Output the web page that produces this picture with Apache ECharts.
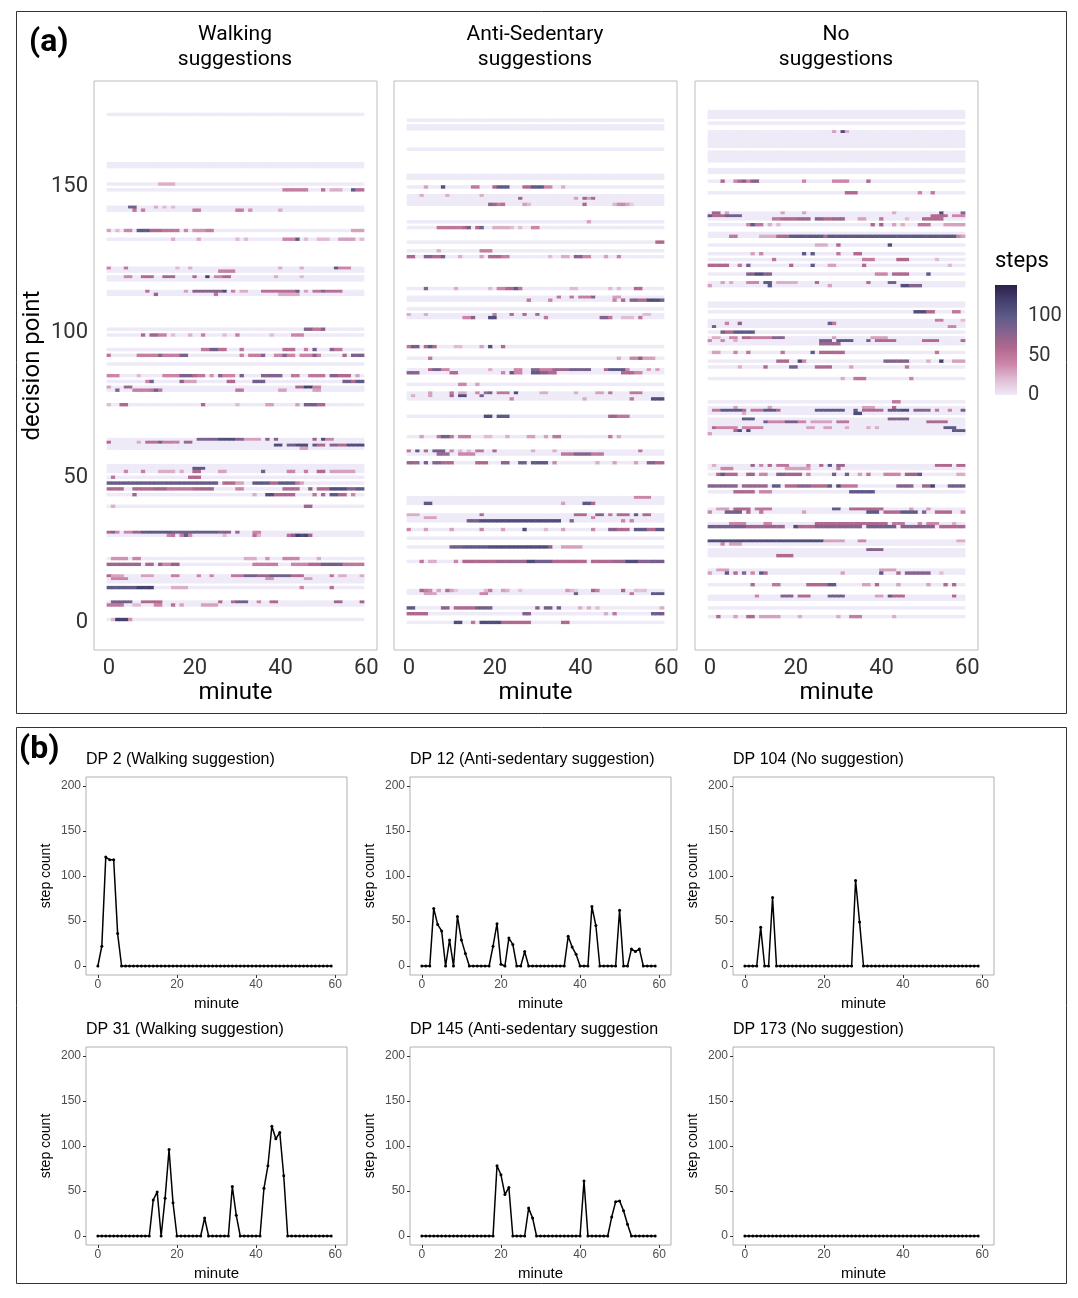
<!DOCTYPE html>
<html>
<head>
<meta charset="utf-8">
<script src="https://cdn.jsdelivr.net/npm/echarts@6/dist/echarts.min.js"></script>
<style>
  html, body { margin: 0; padding: 0; background: #fff; }
  #chart { width: 1078px; height: 1298px; }
</style>
</head>
<body>
<div id="chart"></div>
<script>
// ---- panel (b): step counts per minute (minute 0..59) ----
var dp2Steps = [0,22,121,118,118,36,0,0,0,0, 0,0,0,0,0,0,0,0,0,0, 0,0,0,0,0,0,0,0,0,0,
                0,0,0,0,0,0,0,0,0,0, 0,0,0,0,0,0,0,0,0,0, 0,0,0,0,0,0,0,0,0,0];
var dp12Steps = [0,0,0,64,46,39,0,29,0,55, 29,14,0,0,0,0,0,0,22,47, 2,0,31,24,0,0,16,0,0,0,
                 0,0,0,0,0,0,0,33,21,13, 0,0,0,66,45,0,0,0,0,0, 62,0,0,19,16,19,0,0,0,0];
var dp104Steps = [0,0,0,0,43,0,0,76,0,0, 0,0,0,0,0,0,0,0,0,0, 0,0,0,0,0,0,0,0,95,49,
                  0,0,0,0,0,0,0,0,0,0, 0,0,0,0,0,0,0,0,0,0, 0,0,0,0,0,0,0,0,0,0];
var dp31Steps = [0,0,0,0,0,0,0,0,0,0, 0,0,0,0,40,49,0,42,96,37, 0,0,0,0,0,0,0,20,0,0,
                 0,0,0,0,55,23,0,0,0,0, 0,0,53,78,122,108,115,67,0,0, 0,0,0,0,0,0,0,0,0,0];
var dp145Steps = [0,0,0,0,0,0,0,0,0,0, 0,0,0,0,0,0,0,0,0,78, 68,46,54,0,0,0,0,31,20,0,
                  0,0,0,0,0,0,0,0,0,0, 0,61,0,0,0,0,0,0,21,38, 39,28,13,0,0,0,0,0,0,0];
var dp173Steps = [0,0,0,0,0,0,0,0,0,0, 0,0,0,0,0,0,0,0,0,0, 0,0,0,0,0,0,0,0,0,0,
                  0,0,0,0,0,0,0,0,0,0, 0,0,0,0,0,0,0,0,0,0, 0,0,0,0,0,0,0,0,0,0];

// ---- panel (a): rows per decision point, runs of [firstMinute, lastMinute, steps]; other minutes 0 ----
var walkRows = [
  [175, []], [158, []], [157, []],
  [151, [[12,15,25]]],
  [149, [[41,46,45],[50,50,55],[52,54,25],[57,57,100],[58,59,55]]],
  [143, [[5,6,90],[11,11,25],[13,13,20],[15,15,20]]],
  [142, [[6,6,50],[8,8,45],[20,21,45],[30,31,45],[33,33,35],[40,40,25]]],
  [135, [[0,0,30],[2,2,20],[4,5,40],[7,9,100],[10,12,60],[13,16,50],[18,18,40],[20,22,35],[23,24,45],[57,59,30]]],
  [132, [[15,15,25],[21,21,25],[30,30,20],[32,32,20],[41,43,40],[44,44,100],[46,46,20],[49,51,20],[54,57,30],[59,59,20]]],
  [122, [[0,0,40],[4,4,50],[16,16,20],[19,19,25],[40,40,25],[45,45,25],[53,53,100],[54,56,40]]],
  [121, [[26,29,45]]],
  [119, [[4,5,40],[8,10,60],[13,15,65],[20,20,60],[23,23,120],[25,26,40],[27,28,60],[39,39,25],[45,45,20]]],
  [118, []],
  [114, [[9,9,55],[18,18,30],[20,26,80],[27,27,110],[29,29,45],[31,32,25],[36,43,55],[44,44,95],[46,46,30],[48,49,50],[50,50,80],[51,54,55]]],
  [113, [[11,11,70],[25,25,50],[40,44,25]]],
  [101, [[46,47,80],[48,49,50],[50,50,80]]],
  [99, [[8,8,60],[10,11,70],[12,13,45],[15,15,20],[19,19,25],[22,22,45],[27,27,20],[30,30,45],[38,38,20],[43,45,40]]],
  [94, [[22,23,50],[24,25,90],[26,27,55],[31,31,50],[41,43,55],[46,46,45],[48,48,90],[52,52,80],[53,54,50]]],
  [92, [[0,0,50],[7,11,45],[12,12,80],[13,16,45],[17,18,85],[31,31,45],[33,35,45],[36,36,80],[39,40,40],[41,41,80],[42,43,40],[45,47,40],[48,48,80],[49,49,40],[55,55,60],[57,59,85]]],
  [89, []],
  [85, [[0,2,40],[7,7,20],[13,16,40],[17,19,85],[20,20,60],[21,22,50],[24,24,35],[26,26,80],[27,29,40],[31,31,90],[36,40,80],[43,44,50],[47,50,50],[52,53,80],[54,56,60],[58,58,30]]],
  [83, [[9,9,40],[10,10,90],[17,17,80],[18,20,30],[28,29,60],[34,36,90],[55,56,90],[57,57,60],[58,59,100]]],
  [81, [[0,0,30],[4,5,70],[44,45,60],[46,47,120],[48,49,40]]],
  [80, [[2,2,80],[6,9,45],[10,10,50],[11,11,90],[12,12,50],[30,31,50],[40,41,30],[48,49,30]]],
  [75, [[0,0,20],[3,4,60],[22,22,60],[30,30,20],[37,38,30],[44,44,30],[46,48,90],[49,50,60]]],
  [63, [[21,25,85],[26,29,110],[30,31,80],[32,35,30],[37,37,80],[39,39,80],[48,48,70],[50,50,110],[51,52,40]]],
  [62, [[0,0,60],[7,7,25],[9,11,55],[12,12,90],[13,16,45],[18,19,70]]],
  [61, [[39,40,110],[42,43,90],[44,46,110],[48,48,100],[49,50,60],[52,53,80],[54,55,60],[56,59,110]]],
  [60, [[45,46,30]]],
  [54, []],
  [53, [[20,22,100]]],
  [52, [[4,4,40],[8,8,45],[12,15,25],[17,17,25],[20,21,60],[26,27,30],[36,36,90],[42,43,40],[46,46,45],[49,50,60],[52,57,30]]],
  [50, [[1,1,50],[19,21,60]]],
  [48, [[0,25,95],[27,29,60],[30,31,30],[34,37,100],[38,39,60],[40,43,100],[44,44,50],[45,45,30]]],
  [46, [[0,3,60],[6,10,60],[11,13,70],[14,19,50],[20,21,60],[22,24,70],[30,31,40],[41,44,60],[47,47,80],[49,51,60],[52,55,110],[56,57,80],[58,59,100]]],
  [44, [[6,6,70],[34,34,25],[37,38,110],[39,43,60],[48,48,50],[50,50,60],[52,53,100],[54,55,60],[57,57,40]]],
  [40, [[1,1,25],[46,47,70]]],
  [31, [[0,0,60],[1,1,80],[2,2,40],[4,5,40],[6,7,70],[8,14,100],[15,19,90],[20,25,95],[26,28,80],[30,30,70],[34,35,40]]],
  [22, [[1,4,35],[6,7,40],[32,34,25],[37,37,35],[41,44,40],[49,49,25]]],
  [20, [[0,7,70],[9,10,60],[12,12,75],[13,14,40],[15,16,75],[34,39,45],[43,46,40],[47,49,60],[50,54,90],[55,59,50]]],
  [16, [[0,0,60],[1,3,30],[8,10,30],[15,16,45],[21,21,40],[24,24,40],[29,31,50],[32,34,90],[35,37,70],[38,42,90],[43,45,60],[52,52,50],[54,55,25],[59,59,25]]],
  [15, [[1,4,40],[37,38,35],[46,47,30]]],
  [14, []],
  [12, [[0,6,100],[7,10,120],[15,18,25],[45,45,40],[52,52,55]]],
  [7, [[1,5,90],[8,12,60],[26,26,60],[29,29,60],[30,32,90],[35,35,40],[38,39,60],[53,54,70],[59,59,70]]],
  [6, [[0,3,50],[6,7,20],[11,12,40],[15,15,55],[17,17,30],[22,25,30]]]
];
var walkFull = [[1, dp2Steps], [30, dp31Steps]];

var antiRows = [
  [173, []], [171, []], [170, []], [163, []], [154, []], [153, []],
  [150, [[4,4,30],[8,8,110],[15,16,50],[20,20,60],[21,23,100],[27,28,60],[29,31,100],[32,33,40],[36,36,25]]],
  [147, [[3,3,25],[9,9,25],[17,17,25]]],
  [146, [[26,26,70],[39,39,30],[41,41,70],[42,42,30],[43,43,60]]],
  [145, []],
  [138, [[42,42,30]]],
  [136, [[7,12,50],[13,13,60],[14,14,90],[16,16,60],[17,17,90],[20,23,25],[24,24,20],[26,26,20],[29,30,40]]],
  [131, [[58,59,60]]],
  [128, [[7,7,25],[17,19,45]]],
  [126, [[0,1,60],[4,5,80],[6,7,60],[8,8,90],[12,12,25],[17,17,30],[19,21,60],[22,23,45],[33,33,20],[36,37,25],[39,40,80],[41,42,40],[46,46,30],[49,49,40]]],
  [115, [[4,4,80],[11,11,25],[19,19,20],[21,22,40],[23,24,60],[25,25,100],[26,26,50],[38,39,20],[47,47,20],[49,49,20],[53,54,60]]],
  [112, [[35,35,50],[38,38,50],[40,42,45],[43,43,80],[48,49,30]]],
  [111, [[28,28,50],[33,33,40],[48,48,40],[50,50,60],[52,53,80],[54,55,60],[56,58,110],[59,59,90]]],
  [108, []],
  [106, [[0,0,25],[4,4,25],[20,20,45],[24,24,60],[27,27,60],[30,30,60],[55,56,20]]],
  [105, [[13,14,40],[15,15,80],[19,20,110],[32,32,50],[45,46,80],[47,47,50],[50,52,20],[54,54,50]]],
  [95, [[0,0,50],[1,2,90],[4,4,60],[5,5,100],[6,6,60],[11,12,20],[17,17,30],[19,19,110],[22,22,60]]],
  [91, [[5,5,50],[49,49,25],[52,53,40],[54,54,80],[55,57,30]]],
  [87, [[5,5,60],[6,7,90],[8,9,40],[19,19,25],[25,26,40],[29,30,80],[31,33,45],[34,37,70],[38,42,90],[46,46,60],[47,50,100],[51,51,40],[56,56,30],[58,58,30]]],
  [86, [[0,2,80],[10,11,60],[22,22,40],[24,24,100],[25,26,40],[29,30,100],[31,32,80],[33,34,60],[50,52,60],[53,54,40]]],
  [82, [[12,13,40],[16,16,30]]],
  [79, [[5,5,30],[10,10,50],[12,13,25],[16,16,40],[18,18,70],[19,19,90],[21,23,50],[25,25,110],[31,32,25],[39,39,25],[44,45,30],[47,47,50],[52,54,50]]],
  [78, [[1,1,25],[5,5,30],[10,10,70],[12,13,110],[17,17,90]]],
  [77, [[24,24,40],[41,41,25],[52,52,50],[57,59,110]]],
  [71, [[18,19,110],[21,23,100],[47,48,70],[49,51,50]]],
  [64, [[3,3,30],[7,7,50],[8,9,90],[10,10,50],[12,14,45],[18,19,20],[23,23,25],[28,29,30],[32,32,30],[34,35,50],[47,47,50],[49,49,25]]],
  [59, [[0,0,50],[2,2,100],[4,4,60],[6,8,90],[10,10,40],[12,12,20],[14,14,20],[16,17,50],[20,20,60],[29,29,25],[34,34,25],[54,54,50]]],
  [58, [[7,9,70],[12,15,40],[36,38,50],[39,42,80],[43,45,50]]],
  [55, [[0,2,70],[4,4,90],[6,7,80],[8,10,60],[16,18,60],[22,23,80],[26,27,90],[29,32,100],[34,34,40],[44,44,25],[48,48,30],[53,53,30],[56,57,80],[58,59,60]]],
  [43, [[53,56,40]]],
  [42, []],
  [41, [[4,5,100],[36,36,30],[41,42,100],[43,43,60]]],
  [37, [[0,2,25],[17,17,60],[39,41,60],[44,45,80],[47,47,50],[49,51,60],[53,53,100],[55,56,60]]],
  [36, [[4,6,30],[43,43,40]]],
  [35, [[14,16,90],[17,35,110],[38,38,80],[50,50,40],[52,52,40]]],
  [32, [[0,0,40],[4,4,30],[10,10,30],[17,17,40],[22,22,30],[27,27,110],[32,32,20],[36,36,30],[43,43,40],[47,48,80],[49,51,60],[53,55,100],[56,57,60],[58,59,100]]],
  [29, []],
  [26, [[10,12,90],[13,18,100],[19,32,110],[33,33,80],[36,40,30]]],
  [21, [[3,3,50],[5,6,25],[11,11,40],[13,20,60],[21,27,70],[28,29,110],[30,33,90],[34,41,60],[43,47,60],[48,50,70],[51,53,110],[54,56,80],[57,59,90]]],
  [10, [[4,6,30],[17,18,40],[39,39,90],[52,52,50],[57,59,100]]],
  [5, [[0,1,100],[8,9,80],[11,15,60],[16,19,90],[30,30,80],[32,33,90],[35,35,90],[40,40,25],[42,42,25],[44,44,20],[59,59,25]]],
  [3, [[0,4,60],[27,28,80],[46,46,25],[48,48,50],[57,59,90]]],
  [0, [[11,12,110],[15,15,50],[17,21,110],[22,28,60],[36,37,60]]]
];
var antiFull = [[144, dp145Steps], [11, dp12Steps]];

var noneRows = [
  [176, []], [175, []], [174, []],
  [169, [[29,29,30],[31,31,110],[32,32,25]]],
  [168, []], [167, []], [166, []], [165, []], [164, []],
  [162, []], [161, []], [160, []], [159, []], [156, []], [155, []],
  [152, [[3,3,60],[6,6,40],[7,7,60],[8,8,80],[9,9,40],[10,11,80],[22,22,40],[29,32,40],[37,37,60]]],
  [148, [[32,34,60],[49,49,40],[52,52,50]]],
  [141, [[1,2,70],[4,4,30],[17,17,30],[22,22,30],[43,43,25],[54,54,110],[59,59,80]]],
  [140, [[0,0,100],[1,3,60],[4,7,90],[52,55,60],[57,59,40]]],
  [139, [[15,16,50],[17,20,60],[21,23,70],[25,26,80],[27,28,60],[29,31,70],[35,36,30],[40,40,50],[46,46,20],[50,54,60]]],
  [137, [[9,9,40],[10,10,100],[11,12,50],[14,14,25],[16,16,20],[38,38,60],[40,40,70],[43,43,30],[45,45,25],[49,51,50],[55,59,30]]],
  [134, []],
  [133, [[5,6,50],[12,15,25],[16,18,60],[19,26,100],[27,27,60],[28,57,100],[58,58,40],[59,59,30]]],
  [130, [[25,27,25],[30,30,60],[42,42,110]]],
  [127, [[10,10,30],[12,12,40],[22,22,100],[24,24,100],[30,30,50],[34,35,60]]],
  [125, [[15,15,50],[36,38,45],[44,46,60],[53,53,20]]],
  [123, [[0,4,60],[7,7,50],[9,9,90],[19,19,60],[24,24,100],[28,29,30],[36,36,60],[56,56,20]]],
  [120, [[9,10,80],[11,12,110],[13,14,80],[39,41,40],[43,46,60],[51,51,100]]],
  [117, [[3,3,30],[5,5,25],[9,11,40],[13,14,100],[16,20,25],[25,25,60],[37,37,60],[42,43,90]]],
  [116, [[0,0,30],[14,14,100],[28,28,30],[45,46,110],[47,49,80]]],
  [110, []], [109, []],
  [107, [[48,50,110],[51,52,60],[57,58,50]]],
  [104, [[53,54,45],[59,59,20]]],
  [102, [[1,1,90],[56,57,40]]],
  [100, [[3,3,90],[4,5,60],[6,10,100]]],
  [98, [[1,2,25],[5,6,40],[8,9,60],[10,14,45],[15,17,80],[29,29,30],[38,41,30]]],
  [97, [[0,0,40],[3,3,40],[6,6,25],[26,28,90],[30,33,100],[37,37,90],[39,43,60],[50,53,60],[59,59,60]]],
  [96, [[26,30,70]]],
  [93, [[1,2,30],[6,6,40],[9,9,50],[17,17,50],[24,24,100],[26,31,60],[53,53,50]]],
  [90, [[16,18,60],[21,21,110],[22,22,40],[41,46,80],[51,51,25],[54,54,120],[57,59,30]]],
  [88, [[7,7,25],[13,13,60],[19,20,90],[25,28,60],[33,33,30],[46,46,50]]],
  [84, [[31,31,25],[34,36,50],[47,47,40]]],
  [76, [[43,44,50]]],
  [74, [[6,6,30],[14,14,30],[36,38,30],[43,43,60]]],
  [73, [[1,2,50],[3,7,100],[8,8,60],[10,12,50],[13,15,100],[16,16,60],[25,31,100],[34,34,100],[36,40,60],[42,44,100],[45,46,110],[48,51,80],[53,53,50],[56,56,40],[59,59,90]]],
  [72, [[8,8,25],[34,35,110]]],
  [70, [[8,10,100],[42,46,80]]],
  [69, [[13,13,90],[14,17,40],[18,20,90],[21,22,40],[24,28,30],[30,32,50],[51,55,60]]],
  [68, []],
  [67, [[1,1,60],[2,6,40],[8,12,40],[23,24,30],[27,28,30],[32,32,25],[37,37,25],[39,39,25],[55,57,100]]],
  [66, [[6,6,60],[7,7,110],[9,9,110],[57,59,100]]],
  [65, [[0,0,30]]],
  [54, [[1,1,25],[10,10,70],[12,12,40],[14,14,60],[16,18,50],[23,23,40],[26,26,60],[28,28,100],[30,31,70],[53,56,60],[58,59,60]]],
  [53, [[3,5,40],[18,23,30],[30,30,50]]],
  [51, [[2,2,60],[3,3,100],[4,6,60],[9,10,70],[12,13,40],[16,17,80],[18,21,70],[23,23,40],[29,29,90],[32,32,90],[35,35,30],[37,37,50],[41,44,40],[46,48,70],[49,49,100],[58,59,25]]],
  [47, [[0,6,80],[8,13,70],[15,16,100],[18,20,60],[21,23,80],[24,27,60],[28,28,100],[30,30,110],[31,34,50],[44,47,80],[50,51,70],[52,52,120],[56,59,90]]],
  [45, [[6,10,60],[12,14,40],[33,38,100]]],
  [39, [[2,4,30],[6,9,60],[11,14,50],[29,30,100],[33,40,60],[47,47,30],[51,51,30]]],
  [38, [[0,0,40],[4,7,90],[9,9,60],[12,12,50],[22,22,30],[37,39,100],[41,44,60],[45,48,100],[50,50,80],[53,56,60],[59,59,40]]],
  [34, [[5,8,40],[13,14,40],[25,37,60],[38,41,60],[43,45,50],[49,49,40],[51,53,40],[57,57,25]]],
  [33, [[0,8,90],[9,17,70],[20,20,110],[21,24,60],[25,35,80],[37,43,90],[45,52,80],[54,59,60]]],
  [28, [[0,26,110],[27,31,30],[35,36,40],[58,59,25]]],
  [27, [[3,3,40],[5,7,30]]],
  [25, [[37,40,80]]],
  [24, []],
  [23, [[16,19,60]]],
  [18, [[2,4,30],[40,43,30]]],
  [17, [[0,0,30],[4,4,100],[6,6,60],[8,8,80],[10,10,40],[12,12,100],[13,13,60],[31,31,30],[40,40,100],[44,44,60],[46,51,80],[54,54,20]]],
  [13, [[10,10,60],[15,16,50],[23,27,60],[28,29,100],[36,37,30],[39,39,60],[44,44,30],[51,51,30],[55,55,60],[57,57,60]]],
  [9, [[11,11,40],[17,19,80],[21,23,60],[28,31,90],[39,40,30],[42,42,100],[43,45,60],[57,57,60]]],
  [8, []], [5, []],
  [2, [[2,2,60],[6,6,30],[9,10,60],[12,16,30],[21,21,25],[30,30,25],[33,35,45],[43,43,25]]]
];
var noneFull = [[103, dp104Steps], [172, dp173Steps]];

var minuteTicks = [0, 20, 40, 60];
var dpTicks = [0, 50, 100, 150];
var countTicks = [0, 50, 100, 150, 200];
var stepsMax = 140;
var stepColors = ['#eeeaf7', '#e0bcd3', '#cc85a8', '#b0688f', '#86638e', '#5e5a88', '#44406e', '#2b2148'];

var heatTitles = ['Walking\nsuggestions', 'Anti-Sedentary\nsuggestions', 'No\nsuggestions'];
var lineTitles = ['DP 2 (Walking suggestion)', 'DP 12 (Anti-sedentary suggestion)', 'DP 104 (No suggestion)',
                  'DP 31 (Walking suggestion)', 'DP 145 (Anti-sedentary suggestion', 'DP 173 (No suggestion)'];
var lineSeries = [dp2Steps, dp12Steps, dp104Steps, dp31Steps, dp145Steps, dp173Steps];

// category axes padded like ggplot's expansion
var minuteCats = [];
for (var m = -3; m <= 62; m++) minuteCats.push(String(m));
var dpCats = [];
for (var d = -9; d <= 186; d++) dpCats.push(String(d));

function buildCells(rows, full) {
    var cells = [];
    rows.forEach(function (r) {
        var steps = [];
        for (var i = 0; i < 60; i++) steps.push(0);
        r[1].forEach(function (s) {
            for (var k = s[0]; k <= s[1]; k++) steps[k] = s[2];
        });
        steps.forEach(function (v, k) { cells.push([String(k), String(r[0]), v]); });
    });
    full.forEach(function (r) {
        r[1].forEach(function (v, k) { cells.push([String(k), String(r[0]), v]); });
    });
    return cells;
}

var heatCells = [buildCells(walkRows, walkFull), buildCells(antiRows, antiFull), buildCells(noneRows, noneFull)];

var heatLefts = [94, 394, 695];
var lineLefts = [86, 410, 733];
var lineTops = [777, 1047];

var grids = [], xAxes = [], yAxes = [], series = [], graphics = [];
var fontA = 'Roboto, "Liberation Sans", sans-serif';
var fontB = '"Liberation Sans", Arial, sans-serif';

function onTick(list) {
    return function (index, value) { return list.indexOf(Number(value)) >= 0; };
}

heatLefts.forEach(function (left, i) {
    grids.push({ left: left, top: 81, width: 283, height: 569, show: true, borderColor: '#bdbdbd', borderWidth: 1 });
    xAxes.push({
        type: 'category', gridIndex: i, data: minuteCats,
        axisLine: { show: false },
        axisTick: { interval: onTick(minuteTicks), alignWithLabel: true, length: 4, lineStyle: { color: '#333' } },
        axisLabel: { interval: onTick(minuteTicks), fontSize: 22, color: '#333', margin: 7, fontFamily: fontA },
        name: 'minute', nameLocation: 'middle', nameGap: 31,
        nameTextStyle: { fontSize: 24, color: '#000', fontFamily: fontA }
    });
    yAxes.push({
        type: 'category', gridIndex: i, data: dpCats,
        axisLine: { show: false },
        axisTick: { interval: onTick(dpTicks), alignWithLabel: true, length: 4, lineStyle: { color: '#333' } },
        axisLabel: { show: i === 0, interval: onTick(dpTicks), fontSize: 22, color: '#333', margin: 6, fontFamily: fontA },
        name: i === 0 ? 'decision point' : '', nameLocation: 'middle', nameGap: 49,
        nameTextStyle: { fontSize: 24, color: '#000', fontFamily: fontA }
    });
    series.push({
        type: 'heatmap', xAxisIndex: i, yAxisIndex: i, data: heatCells[i],
        progressive: 0, silent: true,
        itemStyle: { borderWidth: 0 },
        emphasis: { disabled: true }
    });
    graphics.push({
        type: 'text', x: left + 141, y: 22,
        style: { text: heatTitles[i], fontSize: 21, fontFamily: fontA, fill: '#000', textAlign: 'center', verticalAlign: 'top', lineHeight: 25 }
    });
});

// colour bar legend drawn on its own small axis
grids.push({ left: 995, top: 285, width: 22, height: 110 });
xAxes.push({ type: 'category', gridIndex: 3, data: ['steps'], show: false });
yAxes.push({
    type: 'value', gridIndex: 3, min: 0, max: stepsMax, interval: 50, position: 'right',
    axisLine: { show: false }, splitLine: { show: false },
    axisTick: { show: true, inside: true, length: 4, lineStyle: { color: '#fff', width: 1 } },
    axisLabel: { fontSize: 20, color: '#333', margin: 11, showMaxLabel: false, fontFamily: fontA }
});
series.push({
    type: 'bar', xAxisIndex: 3, yAxisIndex: 3, data: [stepsMax], barWidth: '100%', silent: true,
    itemStyle: {
        color: new echarts.graphic.LinearGradient(0, 1, 0, 0, stepColors.map(function (c, k) {
            return { offset: k / (stepColors.length - 1), color: c };
        }))
    }
});
graphics.push({ type: 'text', x: 995, y: 250, style: { text: 'steps', fontSize: 22, fontFamily: fontA, fill: '#000' } });

// panel (b) line charts
lineSeries.forEach(function (vals, j) {
    var gi = 4 + j;
    var left = lineLefts[j % 3], top = lineTops[Math.floor(j / 3)];
    grids.push({ left: left, top: top, width: 261, height: 198, show: true, borderColor: '#b0b0b0', borderWidth: 1 });
    xAxes.push({
        type: 'value', gridIndex: gi, min: -3, max: 63,
        axisLine: { show: false, onZero: false }, splitLine: { show: false },
        axisTick: { customValues: minuteTicks, length: 3, lineStyle: { color: '#333' } },
        axisLabel: { customValues: minuteTicks, fontSize: 12, color: '#4d4d4d', margin: 4, fontFamily: fontB },
        name: 'minute', nameLocation: 'middle', nameGap: 21,
        nameTextStyle: { fontSize: 15, color: '#000', fontFamily: fontB }
    });
    yAxes.push({
        type: 'value', gridIndex: gi, min: -10, max: 210,
        axisLine: { show: false, onZero: false }, splitLine: { show: false },
        axisTick: { customValues: countTicks, length: 3, lineStyle: { color: '#333' } },
        axisLabel: { customValues: countTicks, fontSize: 12, color: '#4d4d4d', margin: 5, fontFamily: fontB },
        name: 'step count', nameLocation: 'middle', nameGap: 33,
        nameTextStyle: { fontSize: 14, color: '#000', fontFamily: fontB }
    });
    series.push({
        type: 'line', xAxisIndex: gi, yAxisIndex: gi, silent: true,
        data: vals.map(function (v, k) { return [k, v]; }),
        symbol: 'circle', symbolSize: 3, showSymbol: true,
        lineStyle: { color: '#000', width: 1.5 },
        itemStyle: { color: '#000' }
    });
    graphics.push({
        type: 'text', x: left, y: top - 25,
        style: { text: lineTitles[j], fontSize: 16, fontFamily: fontB, fill: '#000' }
    });
});

// panel frames and letters
graphics.push({ type: 'rect', shape: { x: 16.5, y: 11.5, width: 1050, height: 702 }, style: { fill: 'none', stroke: '#333', lineWidth: 1 } });
graphics.push({ type: 'rect', shape: { x: 16.5, y: 727.5, width: 1050, height: 556 }, style: { fill: 'none', stroke: '#333', lineWidth: 1 } });
graphics.push({ type: 'text', x: 29, y: 27, style: { text: '(a)', fontSize: 32, fontWeight: 'bold', fontFamily: fontA, fill: '#000' } });
graphics.push({ type: 'text', x: 19, y: 734, style: { text: '(b)', fontSize: 32, fontWeight: 'bold', fontFamily: fontA, fill: '#000' } });

var myChart = echarts.init(document.getElementById('chart'));
myChart.setOption({
    animation: false,
    backgroundColor: '#fff',
    grid: grids,
    xAxis: xAxes,
    yAxis: yAxes,
    visualMap: {
        type: 'continuous', show: false, min: 0, max: stepsMax, seriesIndex: [0, 1, 2], dimension: 2,
        inRange: { color: stepColors }
    },
    graphic: graphics,
    series: series
});
</script>
</body>
</html>
